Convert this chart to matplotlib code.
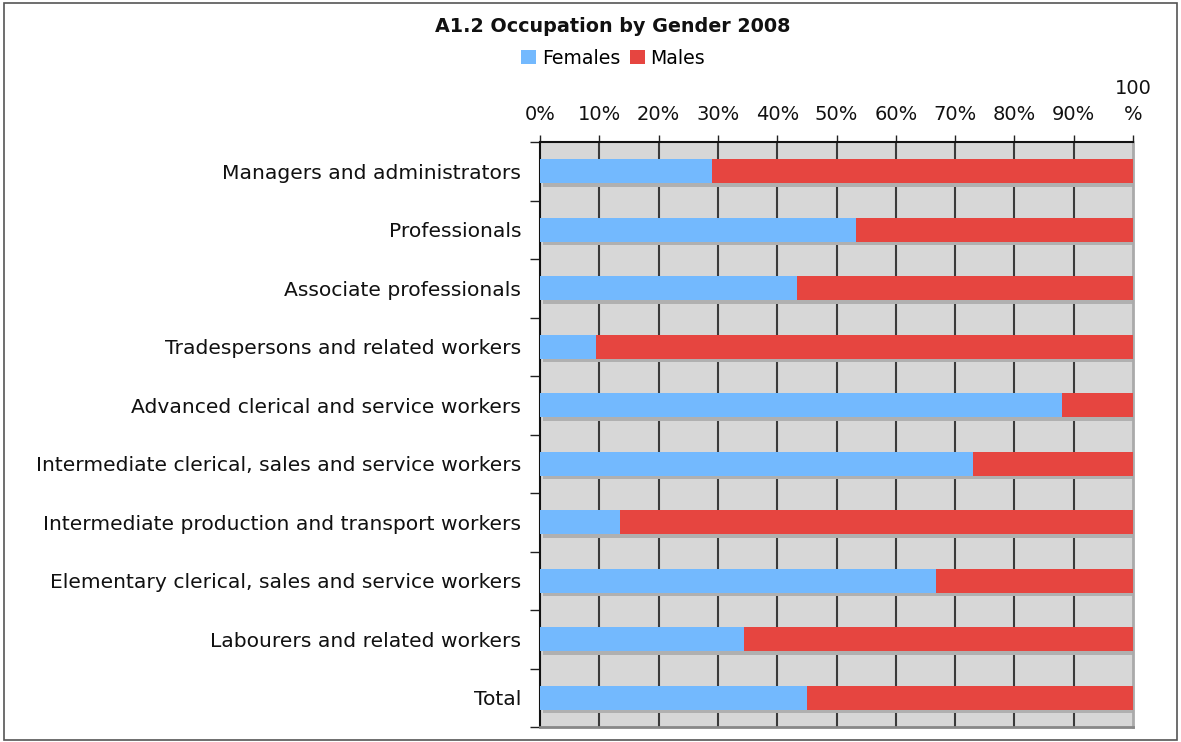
import matplotlib
matplotlib.use("Agg")
import matplotlib.pyplot as plt
from matplotlib.patches import Rectangle
import numpy as np

categories = [
    "Managers and administrators",
    "Professionals",
    "Associate professionals",
    "Tradespersons and related workers",
    "Advanced clerical and service workers",
    "Intermediate clerical, sales and service workers",
    "Intermediate production and transport workers",
    "Elementary clerical, sales and service workers",
    "Labourers and related workers",
    "Total",
]
females = [29.0, 53.3, 43.3, 9.4, 88.0, 73.0, 13.5, 66.8, 34.4, 45.0]
males = [100 - f for f in females]
xtick_labels = ["0%", "10%", "20%", "30%", "40%", "50%", "60%", "70%", "80%", "90%", "100\n%"]

plt.rcParams['font.family'] = ['DejaVu Sans']

fig = plt.figure(figsize=(11.81, 7.42), dpi=100)
fig.patches.append(Rectangle((0.003, 0.003), 0.994, 0.993, transform=fig.transFigure,
                             fill=False, edgecolor='#555555', linewidth=1.2))
ax = fig.add_axes([540/1181, 1-727/742, (1133-540)/1181, (727-142)/742])
ax.set_facecolor('#d7d7d7')

y = np.arange(len(categories))
h = 0.41
# shadows
ax.barh(y + 0.06, [f + m for f, m in zip(females, males)], left=0.5, height=h,
        color='#b0b0b0', zorder=2)
ax.barh(y, females, height=h, color='#73b9fe', zorder=3, label='Females')
ax.barh(y, males, left=females, height=h, color='#e64540', zorder=3, label='Males')

ax.set_xlim(0, 100)
ax.set_ylim(len(categories) - 0.5, -0.5)
ax.set_xticks(np.arange(0, 101, 10))
ax.set_xticklabels(xtick_labels, fontsize=14, color='#111111', linespacing=1.45)
ax.xaxis.tick_top()
ax.tick_params(axis='x', which='major', length=5, width=1, pad=8, color='#222222')
for gx in np.arange(10, 100, 10):
    ax.axvline(gx, color='#3a3a3a', linewidth=1.5, zorder=1)

ax.set_yticks(y)
ax.set_yticklabels(categories, fontsize=14.6, color='#111111')
ax.set_yticks(np.arange(-0.5, len(categories), 1), minor=True)
ax.tick_params(axis='y', which='major', length=0, pad=13.5)
ax.tick_params(axis='y', which='minor', length=7, width=1, color='#222222')

for s in ['top', 'left']:
    ax.spines[s].set_color('#111111')
    ax.spines[s].set_linewidth(1.5)
ax.spines['bottom'].set_color('#888888')
ax.spines['bottom'].set_linewidth(2)
ax.spines['right'].set_color('#aaaaaa')
ax.spines['right'].set_linewidth(2)

fig.text(613/1181, 1-27/742, "A1.2 Occupation by Gender 2008", ha='center', va='center',
         fontsize=13.8, fontweight='bold', color='#111111')
fig.legend(loc='center', bbox_to_anchor=(613/1181, 1-58/742), ncol=2, frameon=False,
           fontsize=13.6, handlelength=0.8, handleheight=0.8, handletextpad=0.3,
           columnspacing=0.5, borderpad=0)

fig.savefig("out.png", dpi=100)
